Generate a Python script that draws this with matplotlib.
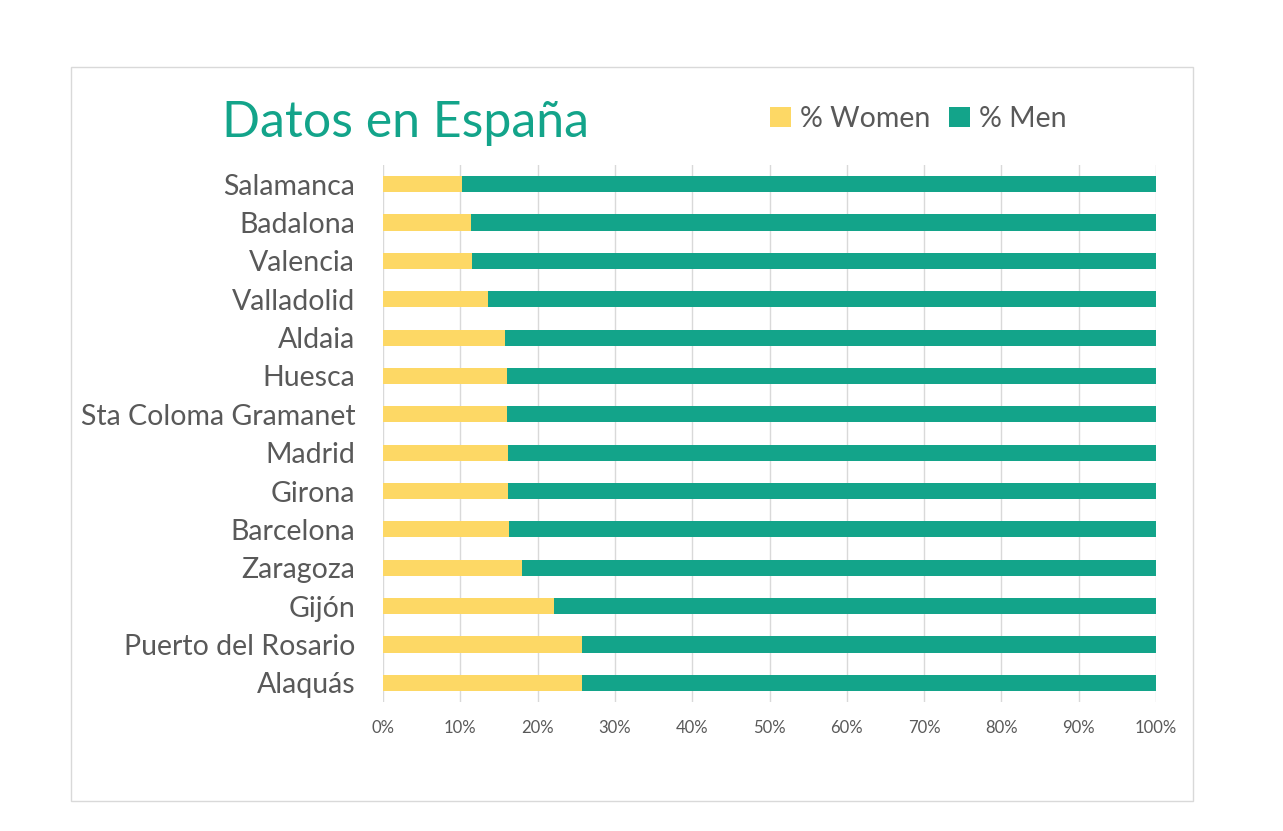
"""Datos en España - share of women and men per city (100% stacked bars)"""

import matplotlib.pyplot as plt
from matplotlib.patches import Rectangle
from matplotlib.ticker import PercentFormatter

cities = [
    "Salamanca",
    "Badalona",
    "Valencia",
    "Valladolid",
    "Aldaia",
    "Huesca",
    "Sta Coloma Gramanet",
    "Madrid",
    "Girona",
    "Barcelona",
    "Zaragoza",
    "Gijón",
    "Puerto del Rosario",
    "Alaquás",
]
women_pct = [10.2, 11.4, 11.5, 13.6, 15.8, 16.0, 16.0, 16.2, 16.2, 16.3, 18.0, 22.1, 25.7, 25.7]
men_pct = [100 - w for w in women_pct]
x_ticks = list(range(0, 101, 10))

yellow = "#FDD865"
teal = "#13A48A"
text_grey = "#595959"

plt.rcParams["font.family"] = ["Lato", "DejaVu Sans"]

fig = plt.figure(figsize=(12.83, 8.31), dpi=100)
fig.patches.append(
    Rectangle((71 / 1283, 1 - 801 / 831), 1122 / 1283, 734 / 831,
              transform=fig.transFigure, fill=False, edgecolor="#D9D9D9", linewidth=1)
)

ax = fig.add_axes([383 / 1283, 1 - 702 / 831, 773 / 1283, 537 / 831])
pos = list(range(len(cities)))
ax.barh(pos, women_pct, height=0.42, color=yellow, label="% Women", zorder=3)
ax.barh(pos, men_pct, left=women_pct, height=0.42, color=teal, label="% Men", zorder=3)

ax.set_ylim(len(cities) - 0.5, -0.5)
ax.set_xlim(0, 100)
ax.set_yticks(pos)
ax.set_yticklabels(cities, fontsize=20.5, color=text_grey)
ax.set_xticks(x_ticks)
ax.xaxis.set_major_formatter(PercentFormatter(decimals=0))
ax.tick_params(axis="x", labelsize=12, labelcolor=text_grey, length=0, pad=13)
ax.tick_params(axis="y", length=0, pad=20)
ax.grid(axis="x", color="#D9D9D9", linewidth=1, zorder=0)
for s in ax.spines.values():
    s.set_visible(False)

fig.text(222 / 1283, 1 - 123 / 831, "Datos en España", fontsize=36, color=teal,
         ha="left", va="center")
fig.legend(loc="center left", bbox_to_anchor=(770 / 1283, 1 - 119 / 831), ncol=2,
           frameon=False, fontsize=20.5, labelcolor=text_grey, handlelength=0.75,
           handleheight=0.75, handletextpad=0.3, columnspacing=0.65, borderpad=0,
           borderaxespad=0)

fig.savefig("out.png", dpi=100)
